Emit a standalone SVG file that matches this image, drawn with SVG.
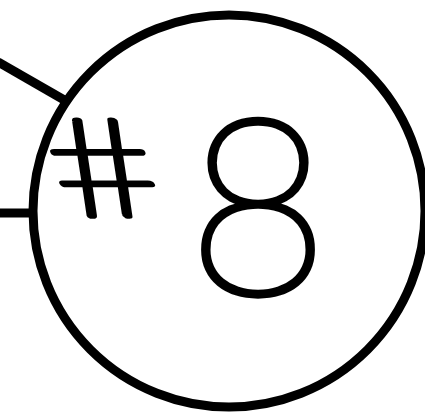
<svg xmlns="http://www.w3.org/2000/svg" width="425" height="413" viewBox="0 0 425 413">
<style>
.edge{stroke:#000;stroke-width:9;fill:none;stroke-linecap:butt}
.ring{stroke:#000;stroke-width:9;fill:#fff}
.lbl{font-family:Lato,Roboto,"Noto Sans",sans-serif;font-weight:100;fill:#000;stroke:#000;stroke-linejoin:round;text-anchor:middle}
</style>
<rect width="425" height="413" fill="#fff"/>
<g id="connectors">
<line class="edge" x1="-2" y1="62" x2="66" y2="101"/>
<line class="edge" x1="-2" y1="213" x2="33" y2="213"/>
</g>
<g id="node-8">
<circle class="ring" cx="229" cy="211" r="196"/>
<text class="lbl" transform="translate(125,216) skewX(25) scale(1.38,0.97)" x="0" y="0" font-size="141" stroke-width="5.8">#</text>
<text class="lbl" x="258" y="294" font-size="244" stroke-width="6.5">8</text>
</g>
</svg>
